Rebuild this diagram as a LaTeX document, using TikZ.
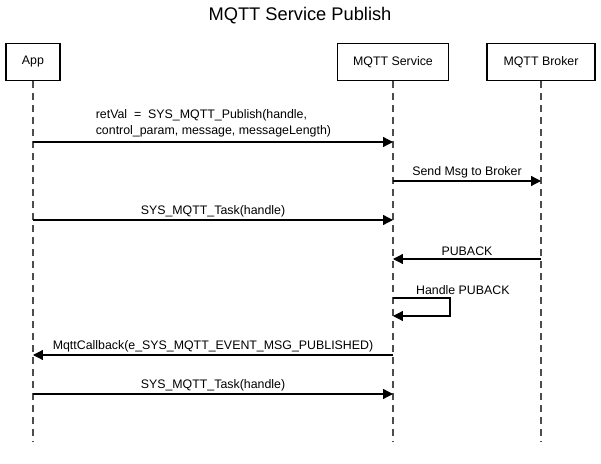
\documentclass[tikz,border=0pt]{standalone}
\usepackage{fontspec}
\setmainfont{Liberation Sans}
\usetikzlibrary{arrows.meta,positioning,calc}

\begin{document}
\begin{tikzpicture}[
    x=0.025cm, y=-0.025cm,
    box/.style={rectangle, draw, line width=1.2pt, minimum height=0.925cm, font=\fontsize{8.8}{10.5}\selectfont},
    lifeline/.style={line width=0.9pt, black!70, dash pattern=on 0.175cm off 0.125cm},
    arrow/.style={-{Triangle[length=7pt,width=7pt]}, line width=0.9pt},
    msg/.style={font=\fontsize{8.8}{10.5}\selectfont, inner sep=1.8pt}
]
    \useasboundingbox (0,0) rectangle (601,464);

    \node[font=\fontsize{13}{15}\selectfont] (title) at (300,16) {MQTT Service Publish};

    \node[box, minimum width=1.35cm] (app) at (33,62) {App};
    \node[box, minimum width=2.775cm] (service) at (393,62) {MQTT Service};
    \node[box, minimum width=2.7cm] (broker) at (541,62) {MQTT Broker};

    % lifelines
    \coordinate (appEnd) at (33,442);
    \coordinate (serviceEnd) at (393,442);
    \coordinate (brokerEnd) at (541,442);
    \draw[lifeline] (app.south) -- (appEnd);
    \draw[lifeline] (service.south) -- (serviceEnd);
    \draw[lifeline] (broker.south) -- (brokerEnd);

    % message points
    \coordinate (a1) at (33,142);  \coordinate (s1) at (393,142);
    \coordinate (s2) at (393,181); \coordinate (b2) at (541,181);
    \coordinate (a3) at (33,220);  \coordinate (s3) at (393,220);
    \coordinate (s4) at (393,259); \coordinate (b4) at (541,259);
    \coordinate (s5) at (393,298); \coordinate (loop) at (450,298);
    \coordinate (s6) at (393,316);
    \coordinate (s7) at (393,355); \coordinate (a7) at (33,355);
    \coordinate (a8) at (33,394);  \coordinate (s8) at (393,394);

    \draw[arrow] (a1) -- (s1);
    \node[msg, anchor=south west, align=left, font=\fontsize{8.8}{11.4}\selectfont] (publish) at (93,140)
        {retVal\ \ =\ \ SYS\_MQTT\_Publish(handle,\\control\_param, message, messageLength)};
    \draw[arrow] (s2) -- node[msg, above] {Send Msg to Broker} (b2);
    \draw[arrow] (a3) -- node[msg, above] {SYS\_MQTT\_Task(handle)} (s3);
    \draw[arrow] (b4) -- node[msg, above] {PUBACK} (s4);
    \draw[arrow] (s5) -- node[msg, above right, pos=0.35] {Handle PUBACK} (loop) |- (s6);
    \draw[arrow] (s7) -- node[msg, above] {MqttCallback(e\_SYS\_MQTT\_EVENT\_MSG\_PUBLISHED)} (a7);
    \draw[arrow] (a8) -- node[msg, above] {SYS\_MQTT\_Task(handle)} (s8);
\end{tikzpicture}
\end{document}
